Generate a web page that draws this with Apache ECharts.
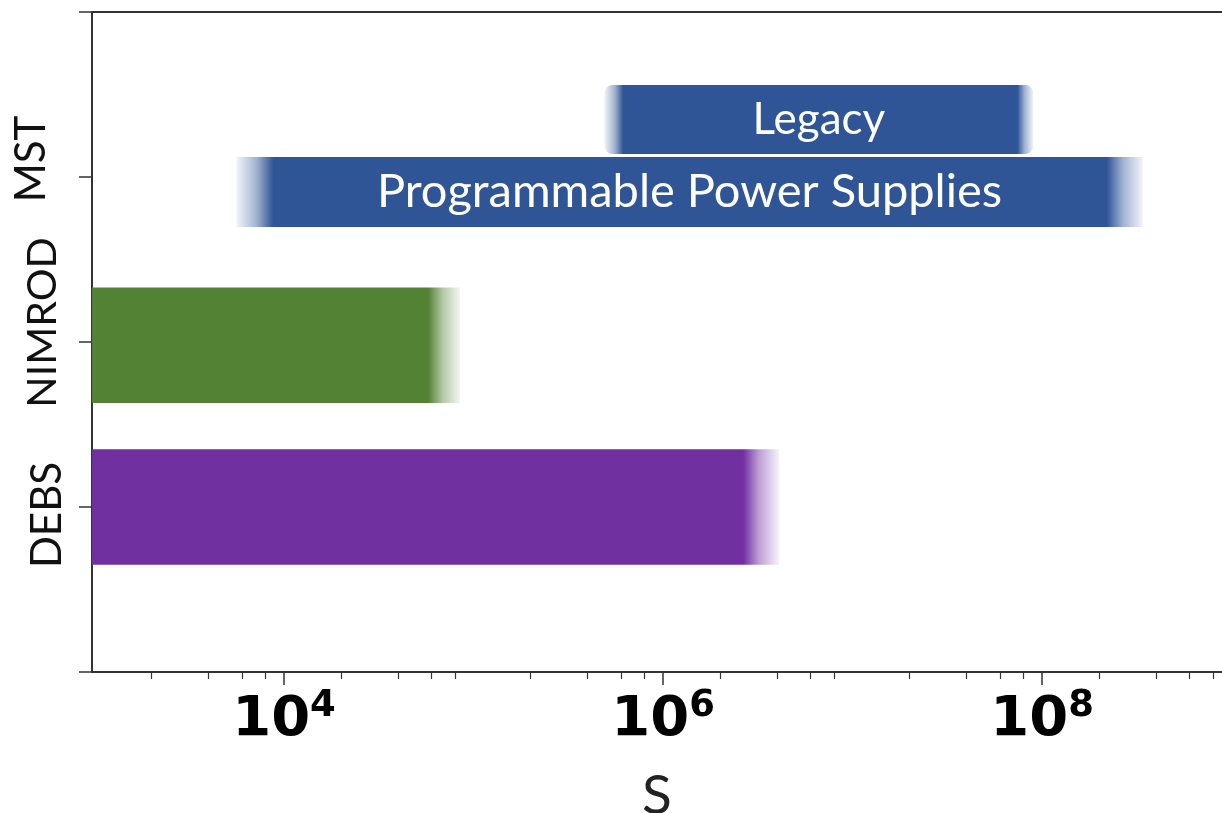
<!DOCTYPE html>
<html>
<head>
<meta charset="utf-8">
<script src="https://cdn.jsdelivr.net/npm/echarts@6/dist/echarts.min.js"></script>
<style>
  html, body { margin: 0; padding: 0; background: #ffffff; }
  #chart { width: 1222px; height: 813px; }
</style>
</head>
<body>
<div id="chart"></div>
<script>
// Rows of the chart, bottom to top
const categories = ['DEBS', 'NIMROD', 'MST'];

// One entry per bar: row index, start and end of the S range
const barNames = ['DEBS', 'NIMROD', 'Programmable Power Supplies', 'Legacy'];
const barRow   = [0, 1, 2, 2];
const barStart = [970, 970, 5.6e3, 4.9e5];
const barEnd   = [4.1e6, 8.5e4, 3.4e8, 9.0e7];
const barText  = ['', '', 'Programmable Power Supplies', 'Legacy'];

// Log axis extent and tick values
const xMin = 970;
const xMax = 8.9e8;
const majorTicks = [1e4, 1e6, 1e8];
const minorTicks = [
  2e3, 4e3, 6e3, 8e3,
  2e4, 4e4, 6e4, 8e4,
  2e5, 4e5, 6e5, 8e5,
  2e6, 4e6, 6e6, 8e6,
  2e7, 4e7, 6e7, 8e7,
  2e8, 4e8, 6e8, 8e8
];

// Look of each bar: colour, vertical offset / thickness (in row units),
// soft fade length at each end (px), label font size
const barLook = [
  { color: '#7030A0', offset: 0.0,    height: 0.70,  fadeL: 0,  fadeR: 36, font: 0,  radius: 0 },
  { color: '#548235', offset: -0.02,  height: 0.70,  fadeL: 0,  fadeR: 32, font: 0,  radius: 0 },
  { color: '#2F5597', offset: -0.091, height: 0.424, fadeL: 37, fadeR: 36, font: 47, radius: 0 },
  { color: '#2F5597', offset: 0.348,  height: 0.418, fadeL: 19, fadeR: 16, font: 44, radius: 8 }
];

const axisColor = '#333333';

function rgba(hex, a) {
  const n = parseInt(hex.slice(1), 16);
  return 'rgba(' + ((n >> 16) & 255) + ',' + ((n >> 8) & 255) + ',' + (n & 255) + ',' + a + ')';
}

const chart = echarts.init(document.getElementById('chart'), null, { renderer: 'canvas' });

const option = {
  backgroundColor: '#ffffff',
  animation: false,
  grid: {
    left: 92, right: 0, top: 12, bottom: 141,
    containLabel: false,
    outerBoundsMode: 'none'
  },
  xAxis: [
    {
      type: 'log',
      min: xMin,
      max: xMax,
      position: 'bottom',
      axisLine: { onZero: false, lineStyle: { color: axisColor, width: 2 } },
      axisTick: { customValues: majorTicks, length: 13, lineStyle: { color: axisColor, width: 1.5 } },
      axisLabel: {
        customValues: majorTicks,
        margin: 16,
        formatter: function (v) {
          return '{b|10}{s|' + Math.round(Math.log10(v)) + '}';
        },
        rich: {
          b: { fontFamily: 'DejaVu Sans', fontWeight: 'bold', fontSize: 56, lineHeight: 64, color: '#000' },
          s: { fontFamily: 'DejaVu Sans', fontWeight: 'bold', fontSize: 37, verticalAlign: 'top', color: '#000' }
        }
      },
      splitLine: { show: false },
      name: 'S',
      nameLocation: 'middle',
      nameGap: 97,
      nameTextStyle: { fontFamily: 'Lato', fontSize: 55, color: '#222' }
    },
    {
      type: 'log',
      min: xMin,
      max: xMax,
      position: 'bottom',
      axisLine: { show: false, onZero: false },
      axisTick: { customValues: minorTicks, length: 7, lineStyle: { color: axisColor, width: 1.2 } },
      axisLabel: { show: false },
      splitLine: { show: false }
    },
    {
      type: 'log',
      min: xMin,
      max: xMax,
      position: 'top',
      axisLine: { onZero: false, lineStyle: { color: axisColor, width: 2 } },
      axisTick: { show: false },
      axisLabel: { show: false },
      splitLine: { show: false }
    }
  ],
  yAxis: {
    type: 'value',
    min: -1,
    max: 3,
    interval: 1,
    axisLine: { show: true, onZero: false, lineStyle: { color: axisColor, width: 2 } },
    axisTick: { show: true, length: 13, lineStyle: { color: axisColor, width: 1.5 } },
    splitLine: { show: false },
    axisLabel: {
      rotate: 90,
      margin: 24,
      formatter: function (v) {
        const i = Math.round(v);
        if (Math.abs(v - i) > 1e-6 || i < 0 || i >= categories.length) return '';
        return '{r' + i + '|' + categories[i] + '}';
      },
      rich: {
        r0: { fontFamily: 'Lato', fontSize: 42, color: '#111', padding: [0, 16, 0, 0] },
        r1: { fontFamily: 'Lato', fontSize: 41, color: '#111', padding: [0, 0, 5, 39] },
        r2: { fontFamily: 'Lato', fontSize: 42, color: '#111', padding: [0, 0, 16, 36] }
      }
    }
  },
  series: [
    {
      type: 'custom',
      coordinateSystem: 'cartesian2d',
      xAxisIndex: 0,
      yAxisIndex: 0,
      clip: true,
      encode: { x: [0, 1], y: 2 },
      data: barNames.map(function (n, i) {
        return { name: n, value: [barStart[i], barEnd[i], barRow[i]] };
      }),
      renderItem: function (params, api) {
        const i = params.dataIndex;
        const look = barLook[i];
        const yc = api.value(2) + look.offset;
        const pTop = api.coord([api.value(0), yc + look.height / 2]);
        const pBot = api.coord([api.value(1), yc - look.height / 2]);
        const x0 = pTop[0], x1 = pBot[0];
        const y0 = pTop[1], y1 = pBot[1];
        const w = x1 - x0, h = y1 - y0;
        const stops = [];
        if (look.fadeL > 0) {
          const f = look.fadeL / w;
          stops.push({ offset: 0, color: rgba(look.color, 0.06) });
          stops.push({ offset: f * 0.55, color: rgba(look.color, 0.45) });
          stops.push({ offset: f, color: rgba(look.color, 1) });
        } else {
          stops.push({ offset: 0, color: rgba(look.color, 1) });
        }
        if (look.fadeR > 0) {
          const f = look.fadeR / w;
          stops.push({ offset: 1 - f, color: rgba(look.color, 1) });
          stops.push({ offset: 1 - f * 0.55, color: rgba(look.color, 0.45) });
          stops.push({ offset: 1, color: rgba(look.color, 0.06) });
        } else {
          stops.push({ offset: 1, color: rgba(look.color, 1) });
        }
        const children = [{
          type: 'rect',
          shape: { x: x0, y: y0, width: w, height: h, r: look.radius },
          style: { fill: new echarts.graphic.LinearGradient(0, 0, 1, 0, stops) }
        }];
        if (barText[i]) {
          children.push({
            type: 'text',
            x: x0 + w / 2,
            y: y0 + h / 2,
            style: {
              text: barText[i],
              fill: '#ffffff',
              fontFamily: 'Lato',
              fontSize: look.font,
              align: 'center',
              verticalAlign: 'middle'
            }
          });
        }
        return { type: 'group', children: children };
      }
    }
  ]
};

chart.setOption(option);
</script>
</body>
</html>
